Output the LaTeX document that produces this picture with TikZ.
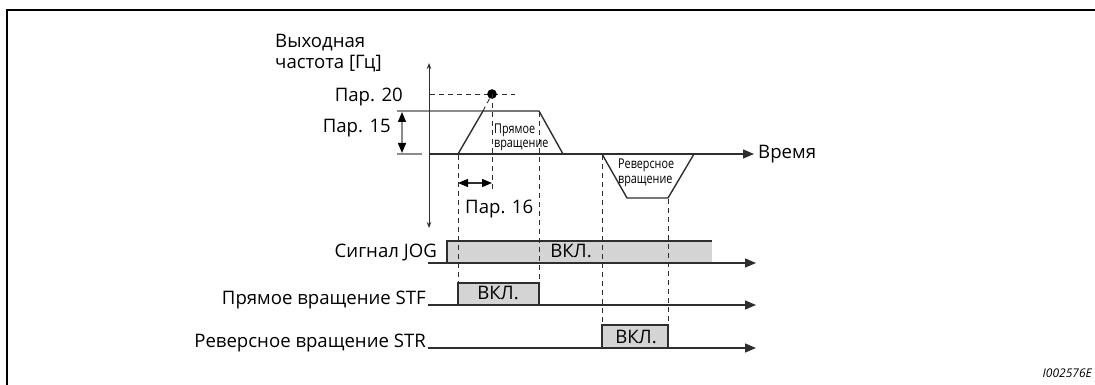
\documentclass[tikz,border=0pt]{standalone}
\usepackage{fontspec}
\setmainfont{Open Sans}
\newfontfamily\condfont[FakeStretch=0.8]{Open Sans}
\usetikzlibrary{arrows.meta}
\definecolor{ln}{gray}{0.18}
\definecolor{refc}{gray}{0.55}
\definecolor{boxc}{gray}{0.83}
\tikzset{
  lbl/.style={inner sep=0pt, font=\fontsize{18.6}{22}\selectfont},
  small/.style={inner sep=0pt, font=\condfont\fontsize{13.5}{15}\selectfont, align=left},
  sig/.style={ln, line width=1.4pt},
  dsh/.style={ln, line width=0.9pt, dash pattern=on 5pt off 4pt},
  tri/.style={-{Triangle[length=11pt,width=9pt]}},
  dtri/.style={{Triangle[length=10pt,width=8pt,black]}-{Triangle[length=10pt,width=8pt,black]}},
}
\begin{document}
\begin{tikzpicture}[x=1pt,y=-1pt]
\useasboundingbox (0,0) rectangle (1095,385);
% frame
\draw[line width=2pt] (7,385) -- (7,10) -- (1095,10);

% reference lines for Par. 15
\draw[refc, line width=1.2pt] (397,111) -- (483,111);
\draw[refc, line width=1.2pt] (397,154) -- (422,154);
\draw[refc, line width=1.3pt, dtri] (402,112) -- (402,153);

% axis
\coordinate (atop) at (429,63);
\coordinate (abot) at (429,228);
\draw[ln, line width=0.9pt, {Stealth[length=6pt,width=4.5pt]}-{Stealth[length=6pt,width=4.5pt]}] (atop) -- (abot);

% time axis
\coordinate (t0) at (429,154);
\node[lbl, anchor=base west] (time) at (758,159) {Время};
\draw[sig, tri] (t0) -- ([xshift=-4pt]time.west |- t0);

% frequency curve
\draw[sig, line join=round] (458,154) -- (483,111) -- (539,111) -- (563,154);
\draw[sig, line join=round] (602,154) -- (627,198) -- (668,198) -- (694,154);

% Par. 20 dashed and dot
\coordinate (dot) at (492,94);
\draw[dsh] (430,94) -- (515,94);
\draw[dsh] (483,111) -- (dot);
\fill[black] (dot) circle (4.8pt);

% signals
\fill[boxc] (447,241) rectangle (712,263);
\draw[sig] (447,263) -- (447,241) -- (712,241);
\fill[boxc] (458,283) rectangle (539,305);
\draw[sig] (458,305) -- (458,283) -- (539,283) -- (539,305);
\fill[boxc] (602,325) rectangle (668,348);
\draw[sig] (602,348) -- (602,325) -- (668,325) -- (668,348);

\coordinate (j0) at (428,263);
\coordinate (j1) at (756,263);
\coordinate (f0) at (428,305);
\coordinate (f1) at (756,305);
\coordinate (r0) at (428,348);
\coordinate (r1) at (756,348);
\draw[sig, tri] (j0) -- (j1);
\draw[sig, tri] (f0) -- (f1);
\draw[sig, tri] (r0) -- (r1);

% dashed verticals
\draw[dsh] (458,155) -- (458,283);
\draw[dsh] (dot) -- (492,192);
\draw[dsh] (539,112) -- (539,283);
\draw[dsh] (602,155) -- (602,325);
\draw[dsh] (668,199) -- (668,325);

% Par. 16 arrow
\draw[ln, line width=1.2pt, dtri] (458,183) -- (492,183);

% labels
\node[lbl, anchor=base west] (ylab) at (275,48) {Выходная};
\node[lbl, anchor=base west] (ylab2) at (275,69) {частота [Гц]};
\node[lbl, anchor=base east] (p20) at (403,102) {Пар. 20};
\node[lbl, anchor=base east] (p15) at (391,132) {Пар. 15};
\node[lbl, anchor=base west] (p16) at (465,213) {Пар. 16};

\node[small, anchor=base west] (fw1) at (494,134) {Прямое};
\node[small, anchor=base west] (fw2) at (494,147) {вращение};
\node[small, anchor=base west] (rv1) at (618,168) {Реверсное};
\node[small, anchor=base west] (rv2) at (618,183) {вращение};

\node[lbl, anchor=base east] (jog) at (437,257) {Сигнал JOG};
\node[lbl, anchor=base east] (stf) at (426,304) {Прямое вращение STF};
\node[lbl, anchor=base east] (str) at (426,347) {Реверсное вращение STR};

\node[lbl, anchor=base] (on1) at (571,257) {ВКЛ.};
\node[lbl, anchor=base] (on2) at (498,299) {ВКЛ.};
\node[lbl, anchor=base] (on3) at (636,343) {ВКЛ.};

\node[inner sep=0pt, anchor=base east, font=\itshape\fontsize{12}{12}\selectfont] (id) at (1092,377) {I002576E};
\end{tikzpicture}
\end{document}
